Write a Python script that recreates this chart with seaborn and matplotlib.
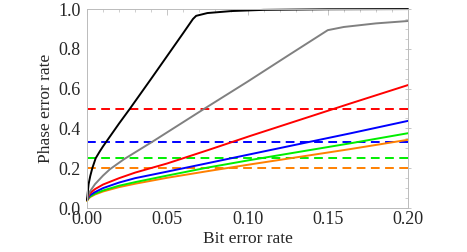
import pandas as pd
import matplotlib.pyplot as plt
import seaborn as sns
from matplotlib.ticker import MultipleLocator

# Datos (BER -> tasa de error de fase)
ber_negro = [0, 0.001, 0.002, 0.0033, 0.0054, 0.008, 0.01, 0.02, 0.0268, 0.04, 0.05, 0.06, 0.066, 0.068, 0.075, 0.09, 0.11, 0.15, 0.2]
fase_negro = [0.04, 0.12, 0.16, 0.2, 0.25, 0.285, 0.31, 0.425, 0.5, 0.65, 0.765, 0.88, 0.95, 0.966, 0.98, 0.99, 0.996, 0.999, 1.0]

ber_gris = [0, 0.001, 0.002, 0.005, 0.01, 0.0143, 0.023, 0.0407, 0.0723, 0.1, 0.125, 0.15, 0.16, 0.18, 0.2]
fase_gris = [0.04, 0.07, 0.085, 0.12, 0.163, 0.195, 0.245, 0.333, 0.495, 0.635, 0.765, 0.894, 0.91, 0.928, 0.94]

ber = [0, 0.001, 0.002, 0.005, 0.01, 0.02, 0.03, 0.05, 0.075, 0.1016, 0.1639, 0.2]
fase_rojo = [0.04, 0.062, 0.075, 0.095, 0.118, 0.15, 0.178, 0.224, 0.29, 0.362, 0.525, 0.618]
fase_azul = [0.04, 0.055, 0.065, 0.08, 0.1, 0.128, 0.15, 0.183, 0.225, 0.27, 0.375, 0.438]
fase_verde = [0.038, 0.05, 0.058, 0.072, 0.088, 0.112, 0.13, 0.163, 0.203, 0.241, 0.325, 0.376]
fase_naranja = [0.035, 0.047, 0.055, 0.068, 0.083, 0.105, 0.122, 0.152, 0.185, 0.219, 0.296, 0.343]

umbrales = [0.5, 1 / 3, 0.25, 0.2]
colores_umbral = ["#ff0000", "#0000ff", "#00ee00", "#ff8000"]

sns.set_style("white")
plt.rcParams["font.family"] = ["Liberation Serif", "DejaVu Serif"]

fig = plt.figure(figsize=(4.67, 2.52), dpi=100)
ax = fig.add_axes([0.1863, 0.1746, 0.6874, 0.7894])

for y, c in zip(umbrales, colores_umbral):
    ax.axhline(y, color=c, lw=1.4, dashes=(4.5, 2.8))

df = pd.concat([
    pd.DataFrame({"ber": ber, "fase": fase_naranja, "curva": "naranja"}),
    pd.DataFrame({"ber": ber, "fase": fase_verde, "curva": "verde"}),
    pd.DataFrame({"ber": ber, "fase": fase_azul, "curva": "azul"}),
    pd.DataFrame({"ber": ber, "fase": fase_rojo, "curva": "rojo"}),
    pd.DataFrame({"ber": ber_gris, "fase": fase_gris, "curva": "gris"}),
    pd.DataFrame({"ber": ber_negro, "fase": fase_negro, "curva": "negro"}),
])
paleta = {"naranja": "#ff8000", "verde": "#00ee00", "azul": "#0000ff",
          "rojo": "#ff0000", "gris": "#808080", "negro": "#000000"}
sns.lineplot(data=df, x="ber", y="fase", hue="curva", palette=paleta,
             lw=1.4, legend=False, ax=ax, sort=False)
for ln in ax.lines:
    ln.set_clip_on(False)

ax.set_xlim(0, 0.2)
ax.set_ylim(0, 1.0)
ax.xaxis.set_major_locator(MultipleLocator(0.05))
ax.xaxis.set_minor_locator(MultipleLocator(0.01))
ax.yaxis.set_major_locator(MultipleLocator(0.2))
ax.yaxis.set_minor_locator(MultipleLocator(0.05))
ax.xaxis.set_major_formatter(plt.FormatStrFormatter("%.2f"))
ax.yaxis.set_major_formatter(plt.FormatStrFormatter("%.1f"))
ax.tick_params(which="both", direction="in", top=True, right=True, color="#bbbbbb", labelsize=13, pad=2)
ax.tick_params(which="major", length=4, width=0.6)
ax.tick_params(which="minor", length=2, width=0.5)
ax.tick_params(axis="y", which="major", direction="inout", length=5)
for s in ax.spines.values():
    s.set_color("#bbbbbb")
    s.set_linewidth(0.7)

ax.set_xlabel("Bit error rate", fontsize=12.5, labelpad=2)
ax.set_ylabel("Phase error rate", fontsize=12.5, labelpad=3)

fig.savefig("out.png", dpi=100)
